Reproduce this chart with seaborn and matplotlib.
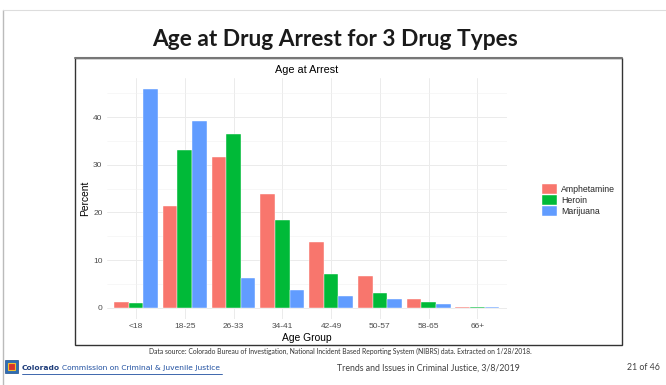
import matplotlib
matplotlib.use("Agg")
import matplotlib.pyplot as plt
from matplotlib.patches import Rectangle
from matplotlib.lines import Line2D
import seaborn as sns
import pandas as pd

# values (percent of arrests per drug type)
age_groups = ["<18", "18-25", "26-33", "34-41", "42-49", "50-57", "58-65", "66+"]
drugs = ["Amphetamine", "Heroin", "Marijuana"]
amphetamine = [1.3, 21.3, 31.7, 23.8, 13.8, 6.8, 1.9, 0.2]
heroin = [1.0, 33.0, 36.4, 18.5, 7.2, 3.1, 1.25, 0.2]
marijuana = [45.8, 39.1, 6.3, 3.8, 2.5, 1.95, 0.9, 0.3]
palette = ["#F8766D", "#00BA38", "#619CFF"]

rows = []
for drug, vals in zip(drugs, [amphetamine, heroin, marijuana]):
    for grp, v in zip(age_groups, vals):
        rows.append({"Age Group": grp, "Drug": drug, "Percent": v})
df = pd.DataFrame(rows)

sns.set_style("white")
plt.rcParams["font.family"] = ["Liberation Sans", "DejaVu Sans"]

W, H = 666, 385
fig = plt.figure(figsize=(W / 100, H / 100), dpi=100)


def fx(px):
    return px / W


def fy(py):
    return (H - py) / H


# chart area (ggplot-like panel)
ax = fig.add_axes([fx(106.7), fy(318.9), fx(400), (318.9 - 78.4) / H])
sns.barplot(data=df, x="Age Group", y="Percent", hue="Drug", order=age_groups,
            hue_order=drugs, palette=palette, width=0.9, saturation=1,
            edgecolor="white", linewidth=0.3, ax=ax)

ax.set_xlim(-0.6, 7.6)
ax.set_ylim(-2.29, 48.09)
ax.set_yticks([0, 10, 20, 30, 40])
ax.set_yticks([5, 15, 25, 35, 45], minor=True)
ax.grid(which="major", color="#EBEBEB", linewidth=0.7)
ax.grid(which="minor", axis="y", color="#F2F2F2", linewidth=0.4)
ax.set_axisbelow(True)
for s in ax.spines.values():
    s.set_visible(False)
ax.tick_params(which="both", length=0, labelsize=6, labelcolor="#4D4D4D", pad=3)
ax.set_xlabel("Age Group", fontsize=7.4, color="black", labelpad=2)
ax.set_ylabel("Percent", fontsize=7.4, color="black", labelpad=2)
ax.set_title("Age at Arrest", fontsize=7.8, color="black", pad=4)

sns.move_legend(ax, "center left", bbox_to_anchor=(fx(538), fy(200)),
                bbox_transform=fig.transFigure, frameon=False, title=None,
                fontsize=6.3, handlelength=1.65, handleheight=1.4,
                labelspacing=0.1, handletextpad=0.45, borderpad=0)

# frame around the chart image
fig.add_artist(Rectangle((fx(75), fy(345)), fx(547), (345 - 58) / H,
                         transform=fig.transFigure, fill=False,
                         edgecolor="#333333", linewidth=1))
fig.add_artist(Line2D([fx(75), fx(622)], [fy(58), fy(58)], transform=fig.transFigure,
                      color="#777777", linewidth=1.5))

# slide border
fig.add_artist(Line2D([fx(3), fx(3)], [fy(10), 0], transform=fig.transFigure,
                      color="#BBBBBB", linewidth=1))
fig.add_artist(Line2D([fx(3), 1], [fy(10), fy(10)], transform=fig.transFigure,
                      color="#DDDDDD", linewidth=0.8))

# slide title
fig.text(fx(335), fy(40), "Age at Drug Arrest for 3 Drug Types", ha="center",
         va="center", fontsize=16.4, fontweight="bold", family="Lato",
         color="#1A1A1A")

# footer
fig.text(fx(340), fy(351.5), "Data source: Colorado Bureau of Investigation, National "
         "Incident Based Reporting System (NIBRS) data. Extracted on 1/28/2018.",
         ha="center", va="center", fontsize=4.85, family="Lato", color="#333333")
fig.add_artist(Rectangle((fx(5), fy(373)), fx(13), 13 / H, transform=fig.transFigure,
                         facecolor="#2E6DB4", edgecolor="#1F4F8A", linewidth=0.5))
fig.add_artist(Rectangle((fx(8), fy(370)), fx(7), 7 / H, transform=fig.transFigure,
                         facecolor="#D9342B", edgecolor="#F2C230", linewidth=0.8))
t1 = fig.text(fx(22), fy(368), "Colorado", ha="left", va="center", fontsize=5.4,
              family="DejaVu Sans", fontweight="bold", color="#1F3D7A")
fig.canvas.draw()
bb = t1.get_window_extent()
fig.text(bb.x1 / W + fx(1.5), fy(368), "Commission on Criminal & Juvenile Justice",
         ha="left", va="center", fontsize=5.4, family="DejaVu Sans", color="#1F4FA0")
fig.add_artist(Line2D([fx(22), fx(222)], [fy(373.5), fy(373.5)],
                      transform=fig.transFigure, color="#1F4FA0", linewidth=0.6))
fig.text(fx(428), fy(368), "Trends and Issues in Criminal Justice, 3/8/2019",
         ha="center", va="center", fontsize=6.3, family="Lato", color="#404040")
fig.text(fx(660), fy(368), "21 of 46", ha="right", va="center", fontsize=6.3,
         family="Lato", color="#404040")

fig.savefig("out.png", dpi=100)
